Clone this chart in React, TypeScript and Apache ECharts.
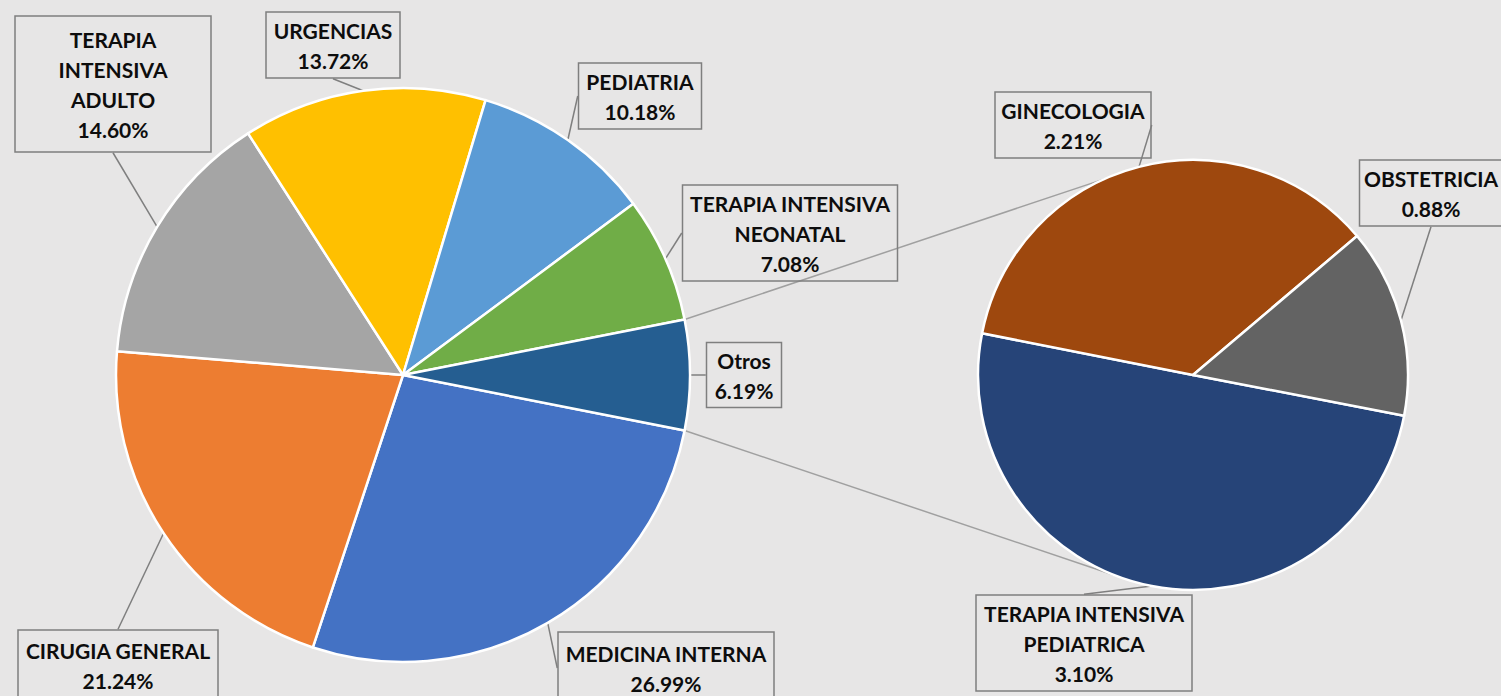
import React, { useEffect, useRef } from "react";
import * as echarts from "echarts";

// ---- data ----
const mainNames = [
  "MEDICINA INTERNA",
  "CIRUGIA GENERAL",
  "TERAPIA\nINTENSIVA\nADULTO",
  "URGENCIAS",
  "PEDIATRIA",
  "TERAPIA INTENSIVA\nNEONATAL",
  "Otros",
];
const mainValues = [26.99, 21.24, 14.6, 13.72, 10.18, 7.08, 6.19];
const mainColors = ["#4472C4", "#ED7D31", "#A5A5A5", "#FFC000", "#5B9BD5", "#70AD47", "#255E91"];

const subNames = ["TERAPIA INTENSIVA\nPEDIATRICA", "GINECOLOGIA", "OBSTETRICIA"];
const subValues = [3.1, 2.21, 0.88];
const subColors = ["#264478", "#9E480E", "#636363"];

// ---- layout (label box centres / sizes) ----
const mainBoxes = [
  { cx: 666, cy: 668, w: 218, h: 74 },
  { cx: 118, cy: 665, w: 202, h: 72 },
  { cx: 113, cy: 84, w: 198, h: 138 },
  { cx: 333, cy: 45, w: 136, h: 68 },
  { cx: 640, cy: 96, w: 125, h: 68 },
  { cx: 790, cy: 233, w: 217, h: 98 },
  { cx: 744, cy: 375, w: 77, h: 67 },
];
const subBoxes = [
  { cx: 1084, cy: 643, w: 218, h: 98 },
  { cx: 1073, cy: 125, w: 158, h: 68 },
  { cx: 1431, cy: 193, w: 145, h: 68 },
];

const BG = "#e7e6e6";
const LINE_H = 30;
const MAIN = { cx: 403, cy: 375, r: 287 };
const SUB = { cx: 1193, cy: 375, r: 215 };
const SUB_START = -10.9;
const CONNECT_ANGLES = [114, -111];

function itemLabel(box: { w: number; h: number }, name: string) {
  const lines = name.split("\n").length + 1;
  const pv = Math.max(0, (box.h - lines * LINE_H) / 2 - 1);
  return { width: box.w - 2, padding: [pv, 0, pv, 0] };
}

export default function App() {
  const ref = useRef<HTMLDivElement>(null);
  useEffect(() => {
    if (!ref.current) return;
    const chart = echarts.init(ref.current, undefined, { renderer: "svg" });

    const otrosIdx = mainNames.length - 1;
    const half = (mainValues[otrosIdx] / mainValues.reduce((a, b) => a + b, 0)) * 180;
    const rad = (d: number) => (d * Math.PI) / 180;
    const mp = (a: number) => [MAIN.cx + MAIN.r * Math.cos(rad(a)), MAIN.cy - MAIN.r * Math.sin(rad(a))];
    const sp = (a: number) => [SUB.cx + SUB.r * Math.cos(rad(a)), SUB.cy - SUB.r * Math.sin(rad(a))];
    const p1 = mp(half), q1 = sp(CONNECT_ANGLES[0]);
    const p2 = mp(-half), q2 = sp(CONNECT_ANGLES[1]);

    const labelBase = {
      show: true,
      position: "outside" as const,
      overflow: "none" as const,
      formatter: (p: any) => `${p.name}\n${Number(p.value).toFixed(2)}%`,
      fontFamily: "Lato",
      fontWeight: "bold" as const,
      fontSize: 21,
      lineHeight: LINE_H,
      color: "#0d0d0d",
      align: "center" as const,
      borderColor: "#7f7f7f",
      borderWidth: 1.5,
    };
    const labelLine = {
      show: true,
      length: 6,
      length2: 0,
      lineStyle: { color: "#7f7f7f", width: 1.5 },
    };

    chart.setOption({
      animation: false,
      backgroundColor: BG,
      graphic: [
        {
          type: "line",
          z: -1,
          shape: { x1: p1[0], y1: p1[1], x2: q1[0], y2: q1[1] },
          style: { stroke: "#a0a0a0", lineWidth: 1.5 },
        },
        {
          type: "line",
          z: -1,
          shape: { x1: p2[0], y1: p2[1], x2: q2[0], y2: q2[1] },
          style: { stroke: "#a0a0a0", lineWidth: 1.5 },
        },
      ],
      series: [
        {
          type: "pie",
          center: [MAIN.cx, MAIN.cy],
          radius: [0, MAIN.r],
          startAngle: -half,
          clockwise: true,
          avoidLabelOverlap: false,
          emphasis: { disabled: true },
          itemStyle: { borderColor: "#ffffff", borderWidth: 2.5 },
          label: labelBase,
          labelLine,
          labelLayout: (p: any) => {
            const b = mainBoxes[p.dataIndex];
            return { x: b.cx, y: b.cy, align: "center", verticalAlign: "middle" };
          },
          data: mainNames.map((n, i) => ({
            name: n,
            value: mainValues[i],
            itemStyle: { color: mainColors[i] },
            label: itemLabel(mainBoxes[i], n),
          })),
        },
        {
          type: "pie",
          center: [SUB.cx, SUB.cy],
          radius: [0, SUB.r],
          startAngle: SUB_START,
          clockwise: true,
          avoidLabelOverlap: false,
          emphasis: { disabled: true },
          itemStyle: { borderColor: "#ffffff", borderWidth: 2.5 },
          label: labelBase,
          labelLine,
          labelLayout: (p: any) => {
            const b = subBoxes[p.dataIndex];
            return { x: b.cx, y: b.cy, align: "center", verticalAlign: "middle" };
          },
          data: subNames.map((n, i) => ({
            name: n,
            value: subValues[i],
            itemStyle: { color: subColors[i] },
            label: itemLabel(subBoxes[i], n),
          })),
        },
      ],
    });
    return () => chart.dispose();
  }, []);
  return (
    <div
      ref={ref}
      style={{ position: "fixed", left: 0, top: 0, width: 1501, height: 696, background: BG }}
    />
  );
}
